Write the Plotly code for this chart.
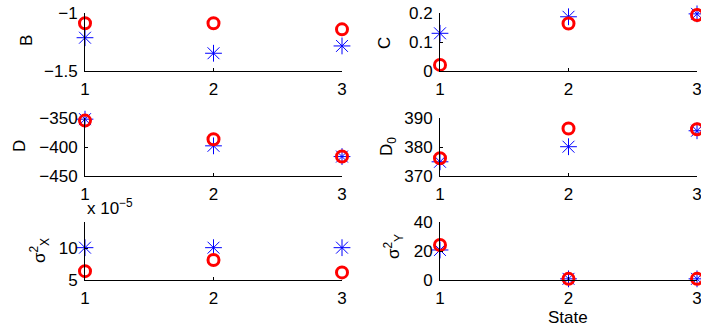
import plotly.graph_objects as go

# state index on the x axis
states = [1, 2, 3]

# blue asterisks / red circles per panel
B_star = [-1.213, -1.347, -1.284]
B_circ = [-1.089, -1.089, -1.141]
C_star = [0.130, 0.187, 0.197]
C_circ = [0.021, 0.164, 0.193]
D_star = [-352.0, -398.0, -416.5]
D_circ = [-354.5, -386.7, -416.5]
D0_star = [374.9, 380.1, 385.6]
D0_circ = [376.1, 386.4, 386.1]
sx_star = [10.1, 10.1, 10.1]   # units of 1e-5
sx_circ = [6.4, 8.15, 6.2]
sy_star = [20.7, 0.8, 0.8]
sy_circ = [24.1, 0.8, 0.8]

W, H = 701, 329
FONT = "Liberation Sans, Arial, sans-serif"
FS = 17

panels = [
    # (stars, circles, y range, y ticks, label, label center px)
    (B_star, B_circ, [-1.5, -1], [-1.5, -1], "B", (26, 41)),
    (C_star, C_circ, [0, 0.2], [0, 0.1, 0.2], "C", (384, 43)),
    (D_star, D_circ, [-450, -350], [-450, -400, -350], "D", (19, 146)),
    (D0_star, D0_circ, [370, 390], [370, 380, 390], "D<sub>0</sub>", (388, 147)),
    (sx_star, sx_circ, [5, 14.15], [5, 10], "σ<sup>2</sup><sub>X</sub>", (39, 251)),
    (sy_star, sy_circ, [0, 40], [0, 20, 40], "σ<sup>2</sup><sub>Y</sub>", (393, 247)),
]

col_px = [(85, 342), (440, 697)]
row_px = [(13, 71), (118, 176), (222, 280)]

fig = go.Figure()
annotations = []

for i, (stars, circs, yr, yt, label, (lx, ly)) in enumerate(panels):
    r, c = divmod(i, 2)
    n = "" if i == 0 else str(i + 1)
    x0, x1 = col_px[c]
    top, bot = row_px[r]

    fig.add_trace(go.Scatter(
        x=states, y=stars, mode="markers", xaxis="x" + n, yaxis="y" + n,
        marker=dict(symbol="asterisk-open", size=14, color="#0000ff",
                    line=dict(color="#0000ff", width=1)),
        cliponaxis=False, showlegend=False,
    ))
    fig.add_trace(go.Scatter(
        x=states, y=circs, mode="markers", xaxis="x" + n, yaxis="y" + n,
        marker=dict(symbol="circle-open", size=11, color="#ff0000",
                    line=dict(color="#ff0000", width=3)),
        cliponaxis=False, showlegend=False,
    ))

    axis_common = dict(showline=True, linecolor="black", linewidth=1, mirror=False,
                       showgrid=False, zeroline=False, ticks="inside", ticklen=3,
                       tickcolor="black", tickfont=dict(family=FONT, size=FS, color="black"),
                       fixedrange=True, ticklabeloverflow="allow", automargin=False)
    fig.layout["xaxis" + n] = dict(
        domain=[x0 / W, x1 / W], range=[1, 3], tickvals=states,
        anchor="y" + n, ticklabelstandoff=3, **axis_common)
    fig.layout["yaxis" + n] = dict(
        domain=[1 - bot / H, 1 - top / H], range=yr, tickvals=yt,
        anchor="x" + n, ticklabelstandoff=3, **axis_common)

    annotations.append(dict(
        text=label, x=lx / W, y=1 - ly / H, xref="paper", yref="paper",
        xanchor="center", yanchor="middle", textangle=-90, showarrow=False,
        font=dict(family=FONT, size=FS, color="black")))

annotations.append(dict(
    text="x 10<sup>−5</sup>", x=85 / W, y=1 - 207 / H, xref="paper", yref="paper",
    xanchor="left", yanchor="middle", showarrow=False,
    font=dict(family=FONT, size=FS, color="black")))
annotations.append(dict(
    text="State", x=568 / W, y=1 - 317 / H, xref="paper", yref="paper",
    xanchor="center", yanchor="middle", showarrow=False,
    font=dict(family=FONT, size=FS, color="black")))

fig.update_layout(
    template="none",
    width=W, height=H, autosize=False,
    margin=dict(l=0, r=0, t=0, b=0, autoexpand=False),
    paper_bgcolor="white", plot_bgcolor="white",
    annotations=annotations,
)

# drop the default page margin so the figure sits flush in the window
fig.write_html("out.html", config={"displayModeBar": False},
               post_script="document.body.style.margin='0';")
